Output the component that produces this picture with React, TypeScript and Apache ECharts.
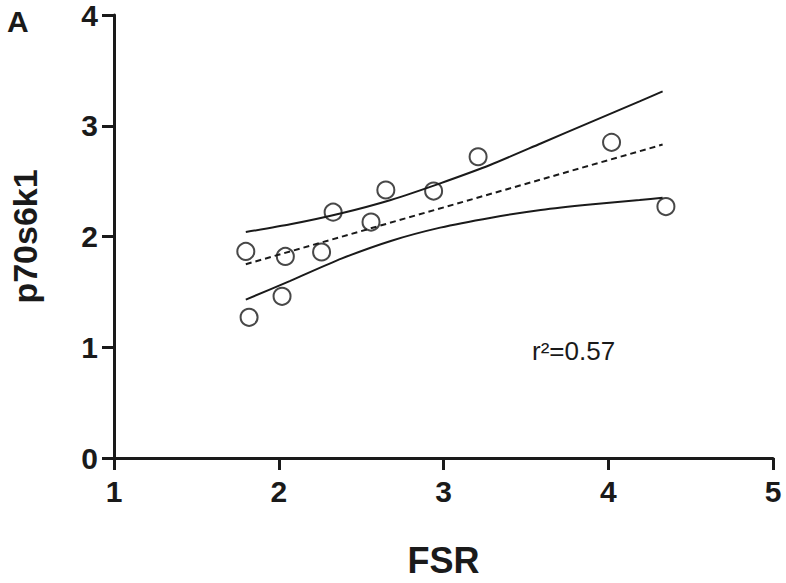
import React, { useEffect, useRef } from "react";
import * as echarts from "echarts";

// Observed data points (FSR, p70s6k1)
const fsr = [1.80, 1.82, 2.02, 2.04, 2.26, 2.33, 2.56, 2.65, 2.94, 3.21, 4.02, 4.35];
const p70 = [1.865, 1.27, 1.46, 1.82, 1.86, 2.22, 2.13, 2.42, 2.41, 2.72, 2.85, 2.27];

// Regression line (dashed)
const fitX = [1.80, 4.33];
const fitY = [1.75, 2.83];

// Confidence curves (shared x positions)
const bandX = [1.80, 2.07, 2.38, 2.68, 2.98, 3.29, 3.59, 3.89, 4.19, 4.33];
const upperY = [2.04, 2.11, 2.21, 2.33, 2.48, 2.65, 2.84, 3.03, 3.22, 3.31];
const lowerY = [1.43, 1.60, 1.80, 1.96, 2.08, 2.17, 2.24, 2.29, 2.33, 2.35];

const xTicks = [1, 2, 3, 4, 5];
const yTicks = [0, 1, 2, 3, 4];

const zip = (a: number[], b: number[]) => a.map((v, i) => [v, b[i]]);

const INK = "#1a1a1a";
const FONT = "'Liberation Sans', Arial, sans-serif";

export default function App() {
  const ref = useRef<HTMLDivElement>(null);
  useEffect(() => {
    if (!ref.current) return;
    const chart = echarts.init(ref.current, undefined, { renderer: "svg" });
    const axisCommon = {
      axisLine: { show: true, lineStyle: { color: INK, width: 3, cap: "round" } },
      axisTick: { show: true, length: 12, lineStyle: { color: INK, width: 3 } },
      splitLine: { show: false },
    };
    chart.setOption({
      animation: false,
      backgroundColor: "#ffffff",
      grid: { left: 113, right: 13, top: 15, bottom: 124, containLabel: false },
      xAxis: {
        type: "value",
        min: xTicks[0],
        max: xTicks[xTicks.length - 1],
        interval: 1,
        name: "FSR",
        nameLocation: "middle",
        nameGap: 84,
        nameTextStyle: { fontFamily: FONT, fontWeight: "bold", fontSize: 36, color: INK },
        ...axisCommon,
        axisLabel: { margin: 18, fontFamily: FONT, fontWeight: "bold", fontSize: 30, color: INK },
      },
      yAxis: {
        type: "value",
        min: yTicks[0],
        max: yTicks[yTicks.length - 1],
        interval: 1,
        name: "p70s6k1",
        nameLocation: "middle",
        nameGap: 72,
        nameTextStyle: { fontFamily: FONT, fontWeight: "bold", fontSize: 34, color: INK },
        ...axisCommon,
        axisLabel: { margin: 16, fontFamily: FONT, fontWeight: "bold", fontSize: 30, color: INK },
      },
      graphic: [
        {
          type: "text",
          left: 7,
          top: 6,
          style: { text: "A", fontFamily: FONT, fontWeight: "bold", fontSize: 30, fill: INK },
        },
        {
          type: "text",
          left: 532,
          top: 338,
          style: { text: "r²=0.57", fontFamily: FONT, fontSize: 26, fill: INK },
        },
      ],
      series: [
        {
          type: "line",
          data: zip(bandX, upperY),
          smooth: 0.2,
          showSymbol: false,
          lineStyle: { color: INK, width: 2 },
          z: 2,
        },
        {
          type: "line",
          data: zip(bandX, lowerY),
          smooth: 0.2,
          showSymbol: false,
          lineStyle: { color: INK, width: 2 },
          z: 2,
        },
        {
          type: "line",
          data: zip(fitX, fitY),
          showSymbol: false,
          lineStyle: { color: INK, width: 2, type: [6, 4] },
          z: 2,
        },
        {
          type: "scatter",
          data: zip(fsr, p70),
          symbol: "circle",
          symbolSize: 17,
          itemStyle: { color: "rgba(0,0,0,0)", borderColor: INK, borderWidth: 2 },
          z: 3,
        },
      ],
    });
    return () => chart.dispose();
  }, []);
  return (
    <div
      ref={ref}
      style={{ position: "fixed", left: 0, top: 0, width: 786, height: 583, background: "#fff" }}
    />
  );
}
